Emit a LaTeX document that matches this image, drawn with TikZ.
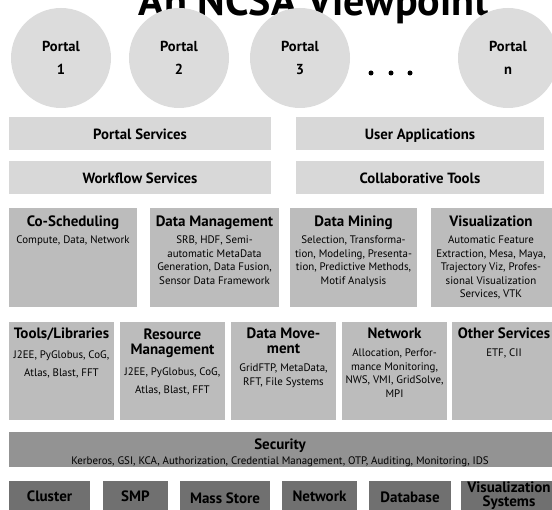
\documentclass[tikz,border=0pt]{standalone}
\usepackage{fontspec}
\setmainfont{PT Sans}
\definecolor{cgray}{HTML}{DCDCDC}
\definecolor{lgray}{HTML}{D8D8D8}
\definecolor{mgray}{HTML}{BCBCBC}
\definecolor{sgray}{HTML}{939393}
\definecolor{dgray}{HTML}{707070}
\begin{document}
\begin{tikzpicture}[x=1pt,y=-1pt,
  portal/.style={circle, fill=cgray, minimum size=100pt, inner sep=0},
  boxbase/.style={anchor=north west, inner sep=0, outer sep=0},
  lbox/.style={boxbase, fill=lgray},
  mbox/.style={boxbase, fill=mgray},
  sbox/.style={boxbase, fill=sgray},
  dbox/.style={boxbase, fill=dgray},
  ptxt/.style={align=center, inner sep=0, anchor=north, font=\fontsize{14.5}{23}\selectfont\bfseries},
  htxt/.style={align=center, inner sep=0, anchor=north, font=\fontsize{14.8}{15}\selectfont\bfseries},
  ttl/.style={align=center, inner sep=0, anchor=north, font=\fontsize{15}{14.5}\selectfont\bfseries},
  body/.style={align=center, inner sep=0, anchor=north, font=\fontsize{10.9}{13.5}\selectfont},
  bodyw/.style={align=center, inner sep=0, anchor=north, font=\fontsize{10.9}{18}\selectfont},
  dot/.style={circle, fill=black, minimum size=5pt, inner sep=0}
]
\useasboundingbox (0,0) rectangle (552,510);
\clip (0,0) rectangle (552,510);

% title (cut off at top)
\node[anchor=base, inner sep=0, font=\fontsize{42}{42}\selectfont\bfseries] (title) at (314,16) {An NCSA Viewpoint};

% portals
\node[portal] (p1) at (61,58) {};
\node[portal] (p2) at (179,58) {};
\node[portal] (p3) at (300,58) {};
\node[portal] (pn) at (508,58) {};
\node[ptxt] (t1) at (61,41) {Portal\\1};
\node[ptxt] (t2) at (179,41) {Portal\\2};
\node[ptxt] (t3) at (300,41) {Portal\\3};
\node[ptxt] (tn) at (508,41) {Portal\\n};
\node[dot] (d1) at (371,73) {};
\node[dot] (d2) at (391,73) {};
\node[dot] (d3) at (410,73) {};

% upper bars
\node[lbox, minimum width=262pt, minimum height=33pt] (ps) at (9,117) {};
\node[lbox, minimum width=248pt, minimum height=33pt] (ua) at (296,117) {};
\node[lbox, minimum width=262pt, minimum height=33pt] (ws) at (9,161) {};
\node[lbox, minimum width=248pt, minimum height=33pt] (ct) at (296,161) {};
\node[htxt] (pst) at (ps.center) [yshift=5pt] {Portal Services};
\node[htxt] (uat) at (ua.center) [yshift=5pt] {User Applications};
\node[htxt] (wst) at (ws.center) [yshift=5pt] {Workflow Services};
\node[htxt] (ctt) at (ct.center) [yshift=5pt] {Collaborative Tools};

% row 2
\node[mbox, minimum width=128pt, minimum height=99pt] (cs) at (9,208) {};
\node[mbox, minimum width=129pt, minimum height=99pt] (dm) at (150,208) {};
\node[mbox, minimum width=127pt, minimum height=99pt] (dmi) at (290,208) {};
\node[mbox, minimum width=125pt, minimum height=99pt] (vi) at (431,208) {};
\node[ttl] (cst) at (73,216) {Co-Scheduling};
\node[body] (csb) at (73,236) {Compute, Data, Network};
\node[ttl] (dmt) at (214.5,216) {Data Management};
\node[body] (dmb) at (214.5,236) {SRB, HDF, Semi-\\automatic MetaData\\Generation, Data Fusion,\\Sensor Data Framework};
\node[ttl] (dmit) at (353.5,216) {Data Mining};
\node[body] (dmib) at (353.5,236) {Selection, Transforma-\\tion, Modeling, Presenta-\\tion, Predictive Methods,\\Motif Analysis};
\node[ttl] (vit) at (491,216) {Visualization};
\node[body] (vib) at (491,236) {Automatic Feature\\Extraction, Mesa, Maya,\\Trajectory Viz, Profes-\\sional Visualization\\Services, VTK};

% row 3
\node[mbox, minimum width=105pt, minimum height=98pt] (tl) at (9,322) {};
\node[mbox, minimum width=105pt, minimum height=98pt] (rm) at (120,322) {};
\node[mbox, minimum width=105pt, minimum height=98pt] (dv) at (231,322) {};
\node[mbox, minimum width=105pt, minimum height=98pt] (nw) at (342,322) {};
\node[mbox, minimum width=104pt, minimum height=98pt] (os) at (452,322) {};
\node[ttl] (tlt) at (61.5,328) {Tools/Libraries};
\node[bodyw] (tlb) at (61.5,351) {J2EE, PyGlobus, CoG,\\Atlas, Blast, FFT};
\node[ttl] (rmt) at (172.5,329) {Resource\\Management};
\node[bodyw] (rmb) at (172.5,368) {J2EE, PyGlobus, CoG,\\Atlas, Blast, FFT};
\node[ttl] (dvt) at (283.5,328) {Data Move-\\ment};
\node[body] (dvb) at (283.5,364) {GridFTP, MetaData,\\RFT, File Systems};
\node[ttl] (nwt) at (394.5,328) {Network};
\node[body] (nwb) at (394.5,349) {Allocation, Perfor-\\mance Monitoring,\\NWS, VMI, GridSolve,\\MPI};
\node[ttl] (ost) at (504,328) {Other Services};
\node[body] (osb) at (504,349) {ETF, CII};

% security
\node[sbox, minimum width=543pt, minimum height=35pt] (sec) at (9,432) {};
\node[ttl] (sect) at (280,438.5) {Security};
\node[body] (secb) at (280,456.5) {Kerberos, GSI, KCA, Authorization, Credential Management, OTP, Auditing, Monitoring, IDS};

% resources
\node[dbox, minimum width=81pt, minimum height=30pt] (cl) at (9,481) {};
\node[dbox, minimum width=65pt, minimum height=30pt] (smp) at (103,481) {};
\node[dbox, minimum width=90pt, minimum height=30pt] (ms) at (180,481) {};
\node[dbox, minimum width=75pt, minimum height=30pt] (net) at (282,481) {};
\node[dbox, minimum width=82pt, minimum height=30pt] (db) at (369,481) {};
\node[dbox, minimum width=95pt, minimum height=30pt] (vs) at (461,481) {};
\node[ttl] (clt) at (49.5,491) {Cluster};
\node[ttl] (smpt) at (135.5,491) {SMP};
\node[ttl] (mst) at (225,492.5) {Mass Store};
\node[ttl] (nett) at (319.5,491) {Network};
\node[ttl] (dbt) at (410,492) {Database};
\node[ttl, font=\fontsize{15}{13.5}\selectfont\bfseries] (vst) at (509,482) {Visualization\\Systems};
\end{tikzpicture}
\end{document}
